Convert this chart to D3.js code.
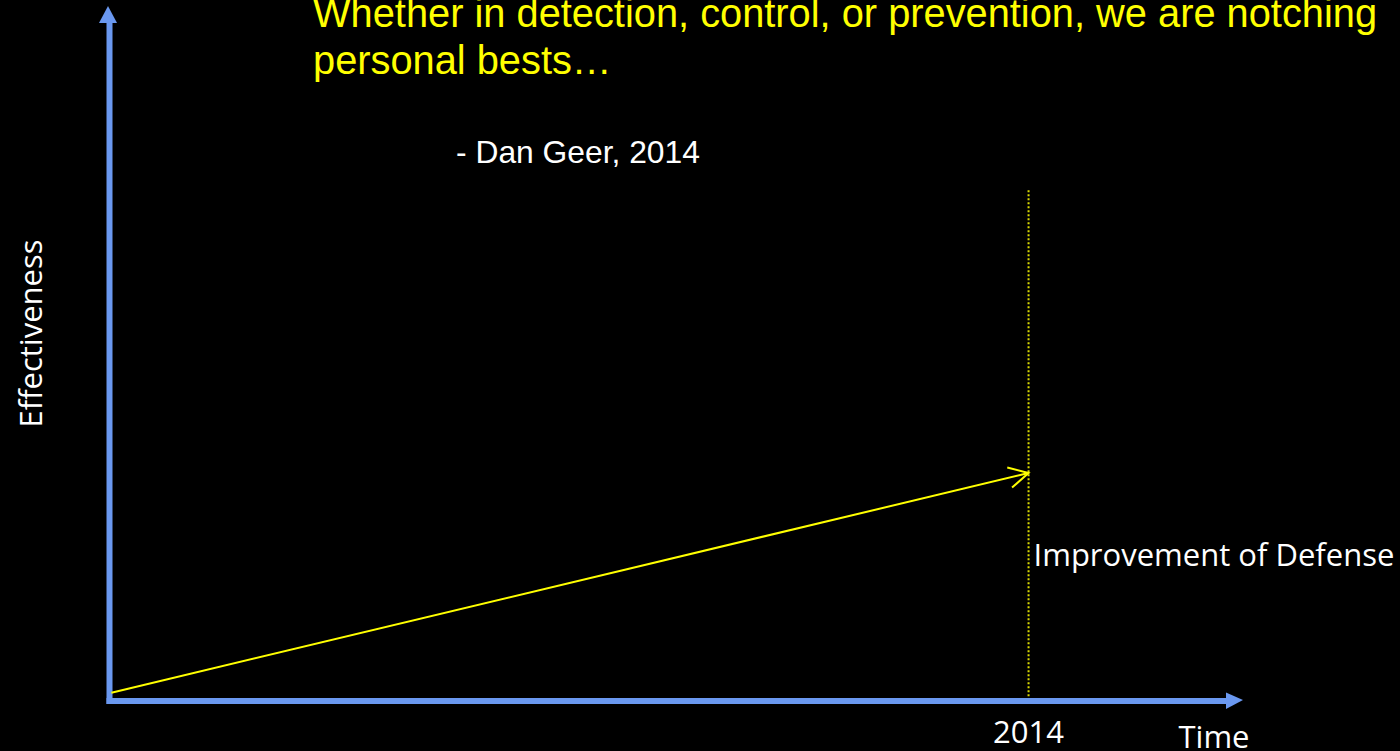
<!DOCTYPE html>
<html>
<head>
<meta charset="utf-8">
<script src="https://cdn.jsdelivr.net/npm/d3@7"></script>
<style>
  html, body { margin: 0; padding: 0; background: #000; }
  svg { display: block; }
</style>
</head>
<body>
<div id="chart"></div>
<script>
// time runs left to right, effectiveness bottom to top
var timeExtent = [1990, 2019.6];
var effExtent = [0, 100];

// the defense trend: origin up to the 2014 mark
var defenseYears = [1990.05, 2014];
var defenseValues = [1.2, 32.8];

var markerYear = 2014;
var markerTop = 73.5;
var tickLabels = ["2014"];

var quoteLines = ["Whether in detection, control, or prevention, we are notching", "personal bests\u2026"];
var quoteAuthor = "- Dan Geer, 2014";

var width = 1400, height = 751;
var blue = "#6a98f0", yellow = "#ffff00";

var svg = d3.select("#chart")
    .append("svg")
    .attr("width", width)
    .attr("height", height)
    .style("background", "#000");

var x = d3.scaleLinear().domain(timeExtent).range([109.5, 1243]);
var y = d3.scaleLinear().domain(effExtent).range([701, 6]);

// dotted marker at 2014
svg.append("line")
    .attr("x1", x(markerYear)).attr("x2", x(markerYear))
    .attr("y1", y(markerTop)).attr("y2", y(0.5))
    .attr("stroke", "#dada00")
    .attr("stroke-width", 2)
    .attr("stroke-dasharray", "2,2");

// axes: thick shafts with filled heads
var x0 = x(timeExtent[0]), y0 = y(effExtent[0]);
var xEnd = x(timeExtent[1]), yEnd = y(effExtent[1]);
var head = 17, half = 9;

svg.append("line")
    .attr("x1", x0).attr("y1", y0 + 3)
    .attr("x2", x0).attr("y2", yEnd + head - 1)
    .attr("stroke", blue).attr("stroke-width", 6);

svg.append("line")
    .attr("x1", x0 - 3).attr("y1", y0)
    .attr("x2", xEnd - head + 1).attr("y2", y0)
    .attr("stroke", blue).attr("stroke-width", 6);

svg.append("path")
    .attr("d", d3.line()([[x0 - half - 1.5, yEnd + head], [x0 - 1.5, yEnd], [x0 + half - 1.5, yEnd + head]]) + "Z")
    .attr("fill", blue);

svg.append("path")
    .attr("d", d3.line()([[xEnd - head, y0 - 8.5], [xEnd, y0 - 1], [xEnd - head, y0 + 8]]) + "Z")
    .attr("fill", blue);

// defense improvement arrow
var pts = defenseYears.map(function(d, i) { return [x(d), y(defenseValues[i])]; });
svg.append("path")
    .attr("d", d3.line()(pts))
    .attr("stroke", yellow).attr("stroke-width", 2).attr("fill", "none");

var tip = pts[1], from = pts[0];
var ang = Math.atan2(from[1] - tip[1], from[0] - tip[0]);
var spread = 28 * Math.PI / 180, len = 22;
var headPts = [
    [tip[0] + len * Math.cos(ang - spread), tip[1] + len * Math.sin(ang - spread)],
    tip,
    [tip[0] + len * Math.cos(ang + spread), tip[1] + len * Math.sin(ang + spread)]
];
svg.append("path")
    .attr("d", d3.line()(headPts))
    .attr("stroke", yellow).attr("stroke-width", 2).attr("fill", "none")
    .attr("stroke-linejoin", "miter");

// labels
var body = "'Open Sans', 'Noto Sans', sans-serif";
var arial = "'Liberation Sans', Arial, sans-serif";

svg.append("text")
    .attr("transform", "translate(42," + 333.5 + ") rotate(-90)")
    .attr("text-anchor", "middle")
    .attr("font-family", body)
    .attr("font-size", 31)
    .attr("fill", "#fff")
    .text("Effectiveness");

svg.append("text")
    .attr("x", x(markerYear) + 5).attr("y", 566)
    .attr("font-family", body)
    .attr("font-size", 31)
    .attr("fill", "#fff")
    .text("Improvement of Defense");

svg.selectAll(".tick-label")
    .data(tickLabels)
    .enter()
    .append("text")
    .attr("class", "tick-label")
    .attr("x", x(markerYear)).attr("y", 743)
    .attr("text-anchor", "middle")
    .attr("font-family", body)
    .attr("font-size", 31)
    .attr("fill", "#fff")
    .text(function(d) { return d; });

svg.append("text")
    .attr("x", 1214).attr("y", 748)
    .attr("text-anchor", "middle")
    .attr("font-family", body)
    .attr("font-size", 31)
    .attr("fill", "#fff")
    .text("Time");

svg.selectAll(".quote")
    .data(quoteLines)
    .enter()
    .append("text")
    .attr("class", "quote")
    .attr("x", 313)
    .attr("y", function(d, i) { return 27 + i * 47; })
    .attr("font-family", arial)
    .attr("font-size", 39.8)
    .attr("fill", yellow)
    .text(function(d) { return d; });

svg.append("text")
    .attr("x", 456).attr("y", 163)
    .attr("font-family", arial)
    .attr("font-size", 31.8)
    .attr("fill", "#fff")
    .text(quoteAuthor);
</script>
</body>
</html>
